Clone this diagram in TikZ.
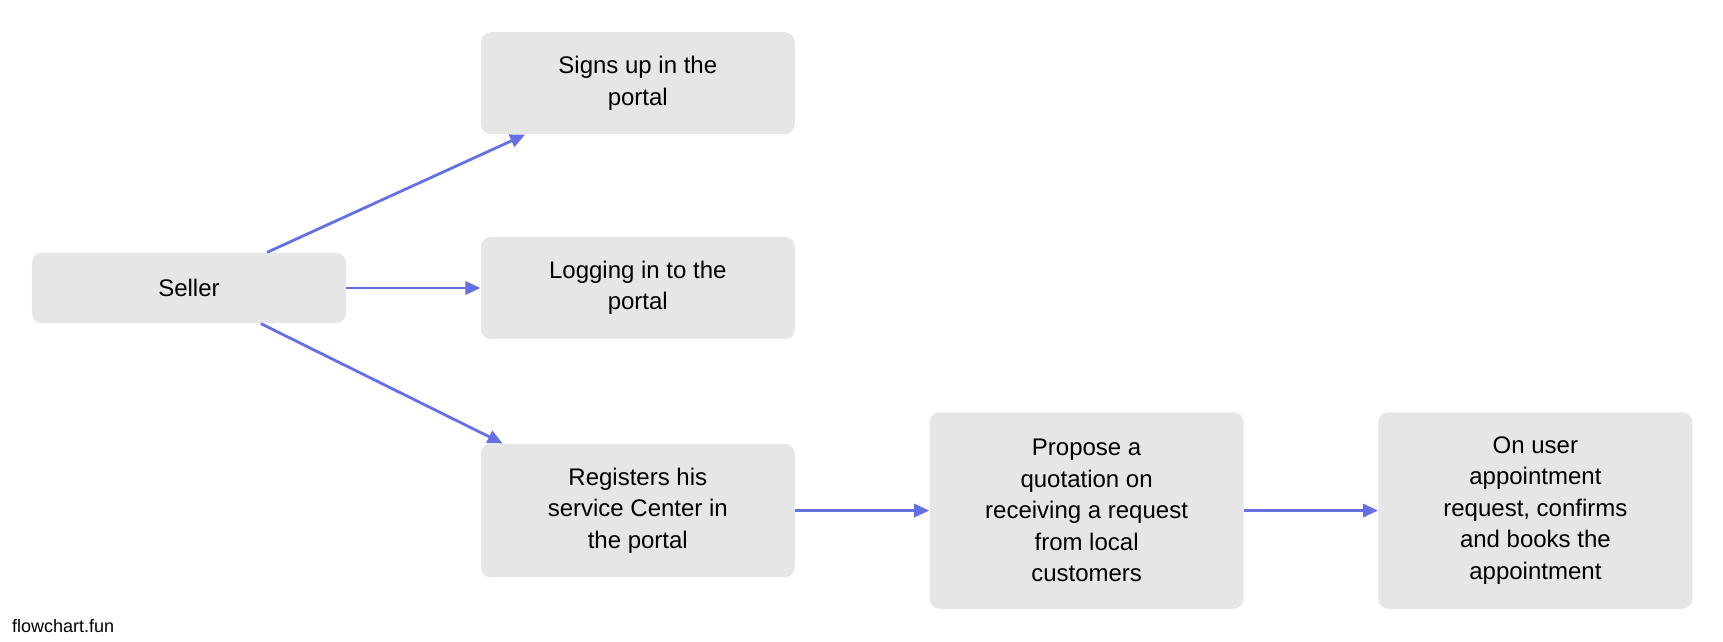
\documentclass[tikz,border=0pt]{standalone}
\usepackage{fontspec}
\setmainfont{Liberation Sans}
\usetikzlibrary{positioning, arrows.meta}
\definecolor{linkblue}{RGB}{100,112,228}
\definecolor{boxgray}{RGB}{230,230,230}
\begin{document}
\begin{tikzpicture}[node distance=67pt,
	task/.style = {shape=rectangle, fill=boxgray, rounded corners=5pt, align=center,
		minimum width=157pt, minimum height=19.5pt+#1*15.75pt, inner sep=4pt,
		font=\fontsize{12}{15.75}\selectfont},
	task/.default = 1,
	link/.style = {draw=linkblue, line width=1.4pt, -{Triangle[length=7.5pt, width=6.6pt]}}]
	\useasboundingbox (-94.5pt,144pt) rectangle (767pt,-177pt);
	\node[task] (S) {Seller};
	\node[task=2, right=of S] (LI) {Logging in to the\\portal};
	\node[task=2, above=51pt of LI] (SU) {Signs up in the\\portal};
	\node[task=3, below=52pt of LI] (RS) {Registers his\\service Center in\\the portal};
	\node[task=5, right=of RS] (PQ) {Propose a\\quotation on\\receiving a request\\from local\\customers};
	\node[task=5, right=of PQ] (OU) {On user\\appointment\\request, confirms\\and books the\\appointment};
	\node[anchor=base west, font=\fontsize{9}{11}\selectfont] (FF) at (-92pt,-172pt) {flowchart.fun};
	\draw[link] (S) -- (SU);
	\draw[link] (S) -- (LI);
	\draw[link] (S) -- (RS);
	\draw[link] (RS) -- (PQ);
	\draw[link] (PQ) -- (OU);
\end{tikzpicture}
\end{document}
